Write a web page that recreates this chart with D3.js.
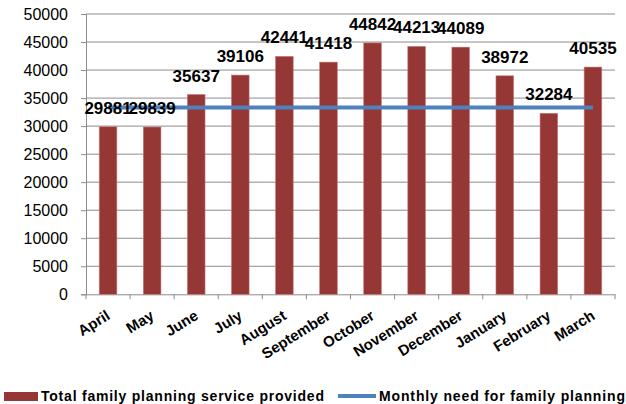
<!DOCTYPE html>
<html><head><meta charset="utf-8">
<script src="https://cdn.jsdelivr.net/npm/d3@7"></script>
<style>body{margin:0;background:#fff}</style>
</head><body>
<svg id="c" width="626" height="404"></svg>
<script>
const months = ["April","May","June","July","August","September","October","November","December","January","February","March"];
const provided = [29881,29839,35637,39106,42441,41418,44842,44213,44089,38972,32284,40535];
const need = [33333,33333,33333,33333,33333,33333,33333,33333,33333,33333,33333,33333];
const yTicks = [0,5000,10000,15000,20000,25000,30000,35000,40000,45000,50000];
const seriesNames = ["Total family planning service provided","Monthly need for family planning"];

const svg = d3.select("#c");
const L=86,R=615,T=14,B=294.3;
const x = d3.scaleBand().domain(months).range([L,R]).paddingInner(0.6).paddingOuter(0.3);
const xc = d3.scaleBand().domain(months).range([L,R]);
const y = d3.scaleLinear().domain([0,50000]).range([B,T]);
const font = "'Liberation Sans', Arial, sans-serif";

// gridlines
svg.append("g").selectAll("line").data(yTicks.filter(d=>d>0)).join("line")
  .attr("x1",L).attr("x2",R).attr("y1",d=>y(d)).attr("y2",d=>y(d))
  .attr("stroke","#8c8c8c").attr("stroke-width",1);

// y axis
const ya = svg.append("g").attr("transform",`translate(${L},0)`)
  .call(d3.axisLeft(y).tickValues(yTicks).tickSize(5).tickPadding(13).tickFormat(d3.format("d")));
ya.select(".domain").attr("stroke","#8c8c8c");
ya.selectAll(".tick line").attr("stroke","#8c8c8c");
ya.selectAll("text").attr("font-family",font).attr("font-size",16).attr("fill","#000");

// x axis
const xa = svg.append("g").attr("transform",`translate(0,${B})`)
  .call(d3.axisBottom(xc).tickSize(0).tickFormat(""));
xa.select(".domain").attr("stroke","#8c8c8c");
xa.selectAll(".tick").remove();
svg.append("g").selectAll("line").data(d3.range(months.length+1)).join("line")
  .attr("x1",i=>L+i*xc.step()).attr("x2",i=>L+i*xc.step())
  .attr("y1",B).attr("y2",B+5).attr("stroke","#8c8c8c");

svg.append("g").selectAll("text").data(months).join("text")
  .attr("transform",d=>`translate(${xc(d)+xc.bandwidth()/2+3},${B+24}) rotate(-32)`)
  .attr("text-anchor","end")
  .attr("font-family",font).attr("font-weight","bold").attr("font-size",15)
  .text(d=>d);

// bars
svg.append("g").selectAll("rect").data(provided).join("rect")
  .attr("x",(d,i)=>x(months[i])).attr("width",x.bandwidth())
  .attr("y",d=>y(d)).attr("height",d=>B-y(d))
  .attr("fill","#953735").attr("stroke","#c9797a").attr("stroke-width",0.6);

// line
const line = d3.line().x((d,i)=>xc(months[i])+xc.bandwidth()/2).y(d=>y(d));
svg.append("path").datum(need).attr("d",line)
  .attr("fill","none").attr("stroke","#4f81bd").attr("stroke-width",4);

// labels
svg.append("g").selectAll("text").data(provided).join("text")
  .attr("x",(d,i)=>xc(months[i])+xc.bandwidth()/2).attr("y",d=>y(d)-13)
  .attr("text-anchor","middle")
  .attr("font-family",font).attr("font-weight","bold").attr("font-size",17)
  .text(d=>d);

// legend
const lg = svg.append("g");
lg.append("rect").attr("x",4).attr("y",392).attr("width",34).attr("height",9).attr("fill","#953735");
lg.append("text").attr("x",41).attr("y",401).attr("font-family",font).attr("font-weight","bold")
  .attr("font-size",14).attr("textLength",283).text(seriesNames[0]);
lg.append("line").attr("x1",338).attr("x2",376).attr("y1",396).attr("y2",396)
  .attr("stroke","#4f81bd").attr("stroke-width",4);
lg.append("text").attr("x",379).attr("y",401).attr("font-family",font).attr("font-weight","bold")
  .attr("font-size",14).attr("textLength",246).text(seriesNames[1]);
</script>
</body></html>
